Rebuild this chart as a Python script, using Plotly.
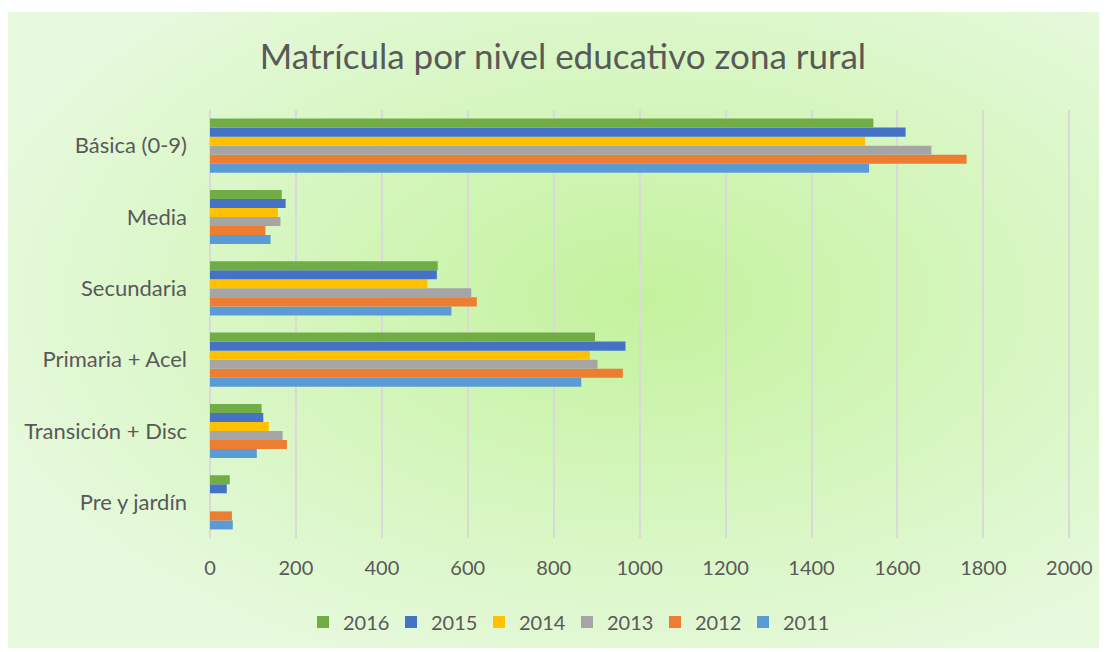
import base64
import plotly.graph_objects as go

# categories bottom -> top, as plotly draws them
categorias = ["Pre y jardín", "Transición + Disc", "Primaria + Acel",
              "Secundaria", "Media", "Básica (0-9)"]

anios = ["2011", "2012", "2013", "2014", "2015", "2016"]
v2011 = [53, 109, 864, 562, 141, 1534]
v2012 = [51, 179, 961, 621, 129, 1761]
v2013 = [0, 169, 902, 608, 164, 1679]
v2014 = [0, 137, 884, 506, 158, 1525]
v2015 = [39, 124, 967, 528, 176, 1619]
v2016 = [46, 120, 896, 530, 167, 1544]
valores = [v2011, v2012, v2013, v2014, v2015, v2016]
colores = ["#5b9bd5", "#ed7d31", "#a5a5a5", "#ffc000", "#4472c4", "#70ad47"]

x_ticks = list(range(0, 2001, 200))

TXT = "#595959"
FONT = "Lato"

# radial green background, as svg data uri
svg = """<svg xmlns='http://www.w3.org/2000/svg' width='1092' height='636' preserveAspectRatio='none'>
<defs><radialGradient id='g' cx='0.58' cy='0.45' r='0.62'>
<stop offset='0' stop-color='#c3f29d'/>
<stop offset='1' stop-color='#e6f9dc'/>
</radialGradient></defs>
<rect width='1092' height='636' fill='url(#g)'/></svg>"""
bg_src = "data:image/svg+xml;base64," + base64.b64encode(svg.encode()).decode()

fig = go.Figure()
for anio, vals, col in zip(anios, valores, colores):
    fig.add_trace(go.Bar(
        name=anio, y=categorias, x=vals, orientation="h",
        marker_color=col, marker_line_width=0,
    ))

# the page has an 8px body margin, so figure px = page px - 8
# plot area (page) 210..1069 x, 110..538 y  (range runs a hair past 2000
# so plotly keeps the 2000 gridline)
L, T = 202, 102
R, B = 1107 - 1063, 652 - 530
pw, ph = 1107 - L - R, 652 - T - B

fig.add_layout_image(
    source=bg_src, xref="paper", yref="paper",
    x=(0 - L) / pw, y=(652 - B - 4) / ph,
    sizex=1092 / pw, sizey=636 / ph,
    sizing="stretch", xanchor="left", yanchor="top", layer="below",
)

fig.update_layout(
    width=1107, height=652,
    autosize=False,
    paper_bgcolor="white",
    plot_bgcolor="rgba(0,0,0,0)",
    font=dict(family=FONT, color=TXT, size=20),
    margin=dict(l=L, r=R, t=T, b=B, autoexpand=False),
    barmode="group",
    bargap=0.24,
    bargroupgap=0,
    title=dict(
        text="Matrícula por nivel educativo zona rural",
        font=dict(size=35, color=TXT, family=FONT),
        x=(555 - L) / pw, xref="paper", xanchor="center",
        y=(652 - 49) / 652, yanchor="middle",
    ),
    xaxis=dict(
        range=[0, 2004], tickvals=x_ticks, tickangle=0,
        showgrid=True, gridcolor="#d9d9d9", gridwidth=2,
        zeroline=True, zerolinecolor="#d9d9d9", zerolinewidth=2,
        showline=False, ticks="", ticklabelstandoff=16,
        tickfont=dict(size=20, color=TXT),
        automargin=False,
    ),
    yaxis=dict(
        showgrid=False, zeroline=False, showline=False, ticks="",
        ticklabelstandoff=22,
        tickfont=dict(size=22, color=TXT),
        automargin=False,
    ),
    legend=dict(
        orientation="h", traceorder="reversed",
        x=(559 - L) / pw, xanchor="center",
        y=(530 - 614) / ph, yanchor="middle",
        bgcolor="rgba(0,0,0,0)",
        font=dict(size=20, color=TXT),
        entrywidth=43, entrywidthmode="pixels",
    ),
)

fig.write_html("out.html")
